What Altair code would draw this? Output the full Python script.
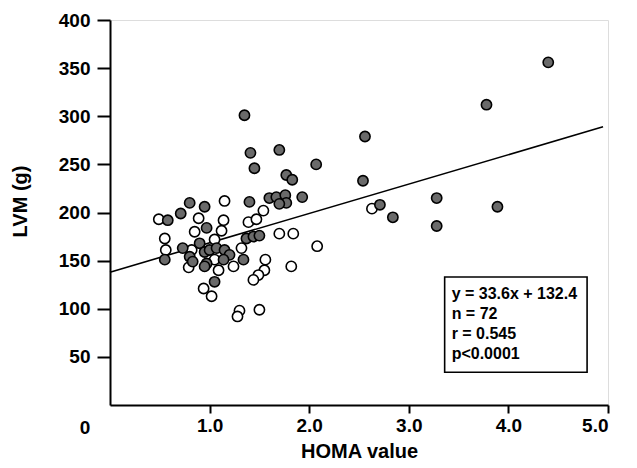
import altair as alt
import pandas as pd

# Filled (dark) points
filled_x = [4.40, 3.78, 2.56, 2.07, 2.54, 3.28, 3.89, 2.71, 2.84, 3.28,
            1.70, 1.35, 1.41, 1.45, 1.77, 1.83, 1.93, 1.60, 1.67, 1.76,
            1.77, 1.70, 1.40, 0.80, 0.95, 0.71, 0.58, 0.97, 1.37, 1.44,
            1.50, 0.73, 0.55, 0.80, 0.83, 0.90, 0.95, 1.00, 1.07, 1.15,
            1.20, 1.14, 0.97, 0.95, 1.34, 1.05]
filled_y = [356, 312, 279, 250, 233, 215, 206, 208, 195, 186,
            265, 301, 262, 246, 239, 234, 216, 215, 216, 218,
            210, 209, 211, 210, 206, 199, 192, 184, 173, 175,
            176, 163, 151, 154, 149, 168, 159, 161, 163, 161,
            156, 151, 147, 144, 151, 128]

# Open (white) points
open_x = [1.15, 0.49, 0.89, 1.14, 1.39, 1.47, 1.54, 0.85, 1.12, 1.05,
          0.55, 1.70, 1.84, 0.56, 0.82, 1.32, 1.05, 0.79, 1.09, 1.24,
          1.56, 1.55, 1.49, 1.44, 1.82, 0.94, 1.02, 1.30, 1.28, 1.50,
          2.63, 2.08]
open_y = [212, 193, 194, 192, 190, 193, 202, 180, 181, 172,
          173, 178, 178, 161, 161, 163, 151, 143, 140, 144,
          151, 140, 135, 130, 144, 121, 113, 98, 92, 99,
          204, 165]

# Regression line as drawn
line_x = [0.0, 4.95]
line_y = [138, 289]

# Stats box
stats_lines = ["y = 33.6x + 132.4", "n = 72", "r = 0.545", "p<0.0001"]
stats_y = [115.3, 94.5, 73.8, 53.0]
box = {"x": 3.36, "x2": 4.79, "y": 34, "y2": 133}
text_x = 3.43

FONT = "Liberation Sans"

df_f = pd.DataFrame({"x": filled_x, "y": filled_y})
df_o = pd.DataFrame({"x": open_x, "y": open_y})
df_l = pd.DataFrame({"x": line_x, "y": line_y})
df_s = pd.DataFrame({"t": stats_lines, "y": stats_y, "x": [text_x] * 4})
df_b = pd.DataFrame([box])
df_zero = pd.DataFrame({"x": [0.0], "y": [0.0], "t": ["0"]})

xscale = alt.Scale(domain=[0, 5], nice=False, zero=True)
yscale = alt.Scale(domain=[0, 400], nice=False)

xaxis = alt.Axis(values=[1, 2, 3, 4, 5], format=".1f", title="HOMA value",
                 tickSize=8, tickWidth=2, tickColor="black", domainColor="black",
                 domainWidth=2, labelFont=FONT, labelFontSize=19, labelFontWeight="bold",
                 labelColor="black", labelPadding=3, titleFont=FONT, titleFontSize=20,
                 titleFontWeight="bold", titleColor="black", titlePadding=6, grid=False)
yaxis = alt.Axis(values=[50, 100, 150, 200, 250, 300, 350, 400], title="LVM (g)",
                 tickSize=13, tickWidth=2, tickColor="black", domainColor="black",
                 domainWidth=2, labelFont=FONT, labelFontSize=19, labelFontWeight="bold",
                 labelColor="black", labelPadding=7, titleFont=FONT, titleFontSize=20,
                 titleFontWeight="bold", titleColor="black", titleX=-80, titleY=181,
                 titleAngle=-90, grid=False)

base_line = alt.Chart(df_l).mark_line(color="black", strokeWidth=1.6).encode(
    x=alt.X("x:Q", scale=xscale, axis=xaxis),
    y=alt.Y("y:Q", scale=yscale, axis=yaxis),
)

open_pts = alt.Chart(df_o).mark_point(shape="circle", filled=True, fill="white",
                                      stroke="black", strokeWidth=1.6, size=105,
                                      opacity=1).encode(
    x=alt.X("x:Q", scale=xscale), y=alt.Y("y:Q", scale=yscale))

filled_pts = alt.Chart(df_f).mark_point(shape="circle", filled=True, fill="#6a6a6a",
                                        stroke="black", strokeWidth=1.6, size=105,
                                        opacity=1).encode(
    x=alt.X("x:Q", scale=xscale), y=alt.Y("y:Q", scale=yscale))

rect = alt.Chart(df_b).mark_rect(fill="white", stroke="black", strokeWidth=1.6).encode(
    x=alt.X("x:Q", scale=xscale), x2="x2:Q",
    y=alt.Y("y:Q", scale=yscale), y2="y2:Q")

stats = alt.Chart(df_s).mark_text(align="left", baseline="middle", font=FONT,
                                  fontSize=16, fontWeight="bold", color="black").encode(
    x=alt.X("x:Q", scale=xscale), y=alt.Y("y:Q", scale=yscale), text="t:N")

zero = alt.Chart(df_zero).mark_text(align="center", baseline="top", font=FONT,
                                    fontSize=19, fontWeight="bold", color="black",
                                    dx=-25, dy=14).encode(
    x=alt.X("x:Q", scale=xscale), y=alt.Y("y:Q", scale=yscale), text="t:N")

chart = alt.layer(base_line, open_pts, filled_pts, rect, stats, zero).properties(
    width=498, height=385,
    autosize=alt.AutoSizeParams(type="none"),
    padding={"left": 102, "top": 12, "right": 21, "bottom": 60},
).configure_view(stroke=None).configure(background="white")

chart.save("out.html", embed_options={"renderer": "svg", "actions": False})
